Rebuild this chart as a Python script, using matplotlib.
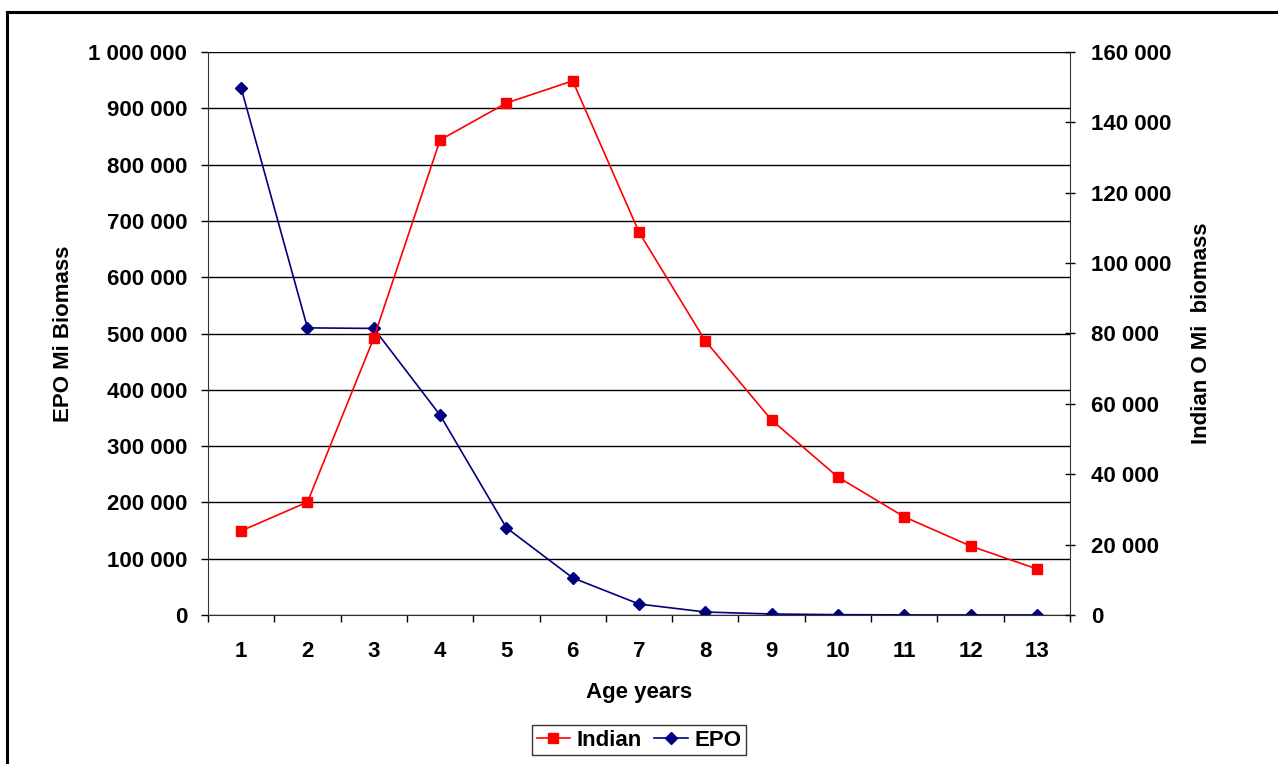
import numpy as np
import matplotlib.pyplot as plt
from matplotlib.ticker import FuncFormatter, MultipleLocator

plt.rcParams['font.family'] = ['Liberation Sans', 'DejaVu Sans']
plt.rcParams['font.weight'] = 'bold'

ages = [1, 2, 3, 4, 5, 6, 7, 8, 9, 10, 11, 12, 13]
epo = [936000, 510000, 509000, 355000, 155000, 66000, 19500, 5300, 1800, 600, 200, 100, 50]
indian = [23900, 32100, 78700, 135000, 145500, 151800, 108800, 77900, 55400, 39200, 27900, 19600, 13100]

def spaced(v, pos):
    return f"{v:,.0f}".replace(",", " ")

fig = plt.figure(figsize=(12.78, 7.64), dpi=100)
# figure frame (only top and left visible in the original crop)
fig.add_artist(plt.Line2D([7 / 1278, 1], [1 - 12 / 764, 1 - 12 / 764], color='black', lw=2.2))
fig.add_artist(plt.Line2D([7 / 1278, 7 / 1278], [0, 1 - 12 / 764], color='black', lw=2.2))

ax = fig.add_axes([208 / 1278, 149 / 764, 862 / 1278, 563 / 764])
ax2 = ax.twinx()

ax.set_xlim(0.5, 13.5)
ax.set_ylim(0, 1000000)
ax2.set_ylim(0, 160000)

ax.yaxis.set_major_locator(MultipleLocator(100000))
ax.yaxis.set_major_formatter(FuncFormatter(spaced))
ax2.yaxis.set_major_locator(MultipleLocator(20000))
ax2.yaxis.set_major_formatter(FuncFormatter(spaced))

ax.set_xticks(ages)
ax.set_xticks(np.arange(0.5, 14, 1), minor=True)
ax.tick_params(axis='x', which='major', length=0, pad=19, labelsize=16)
ax.tick_params(axis='x', which='minor', length=5, width=1, direction='out')
ax.tick_params(axis='y', length=5, width=1, direction='out', pad=10, labelsize=16)
ax2.tick_params(axis='y', length=7, width=1, direction='inout', pad=11.5, labelsize=16)

ax.grid(axis='y', color='black', lw=1)
ax.set_axisbelow(True)
for s in ['top', 'right']:
    ax.spines[s].set_visible(False)
for s in ['top', 'left', 'bottom']:
    ax2.spines[s].set_visible(False)
ax.spines['left'].set_color('#333333')
ax.spines['bottom'].set_color('#333333')
ax2.spines['right'].set_color('#333333')

l1, = ax2.plot(ages, indian, color='#FF0000', lw=1.2, marker='s', ms=7, label='Indian')
l2, = ax.plot(ages, epo, color='#000080', lw=1.2, marker='D', ms=6, label='EPO')

ax.set_xlabel('Age years', fontsize=16, fontweight='bold', labelpad=14)
ax.set_ylabel('EPO Mi Biomass', fontsize=16, fontweight='bold', labelpad=10)
ax2.set_ylabel('Indian O Mi  biomass', fontsize=16, fontweight='bold', labelpad=14)

leg = fig.legend([l1, l2], ['Indian', 'EPO'], loc='center', bbox_to_anchor=(639 / 1278, 1 - 740 / 764),
                 ncol=2, fontsize=16, frameon=True, fancybox=False, edgecolor='black',
                 handlelength=1.5, handletextpad=0.3, columnspacing=0.55, borderpad=0.2,
                 borderaxespad=0.3)
leg.get_frame().set_linewidth(1)

fig.savefig('out.png', dpi=100)
